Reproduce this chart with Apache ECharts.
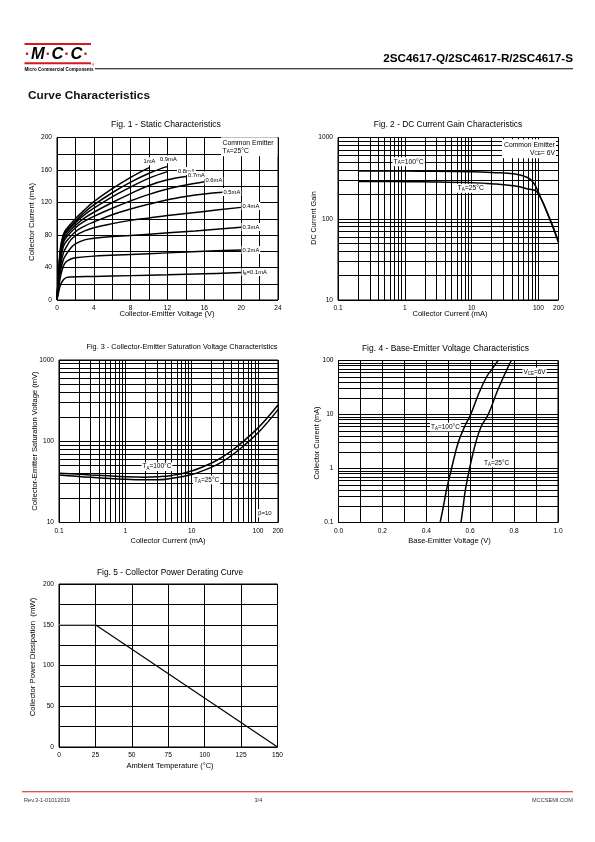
<!DOCTYPE html>
<html><head><meta charset="utf-8">
<script src="https://cdn.jsdelivr.net/npm/echarts@6/dist/echarts.min.js"></script>
<style>html,body{margin:0;padding:0;background:#fff}#c{width:595px;height:842px}</style>
</head><body><div id="c"></div>
<script>
const FONT = 'Liberation Sans';

// ---------- Fig 1: Static characteristics  [VCE (V), IC (mA)] ----------
const ib1_0 = [[0,0],[0.2,40],[0.4,66],[0.7,81],[1,87],[2,100],[3,111],[4,121],[6,137],[8,151],[10,163]];
const ib0_9 = [[0,0],[0.2,38],[0.4,64],[0.7,79],[1,85],[2,97],[3,108],[4,117],[6,132],[8,145],[10,156],[12,164.5]];
const ib0_8 = [[0,0],[0.2,36],[0.4,61],[0.7,77],[1,83],[2,95],[3,105],[4,113],[6,127],[8,139],[10,150],[12,158]];
const ib0_7 = [[0,0],[0.2,34],[0.4,58],[0.7,74],[1,80],[2,92],[3,101],[4,108],[6,120],[8,131],[10,141],[12,148],[14,152]];
const ib0_6 = [[0,0],[0.2,32],[0.4,55],[0.7,71],[1,77],[2,89],[3,97],[4,103],[6,113],[8,122],[10,130],[12,136.5],[14,141.5],[16,145.5]];
const ib0_5 = [[0,0],[0.2,30],[0.4,50],[0.7,66],[1,72],[2,84],[3,91],[4,96],[6,105],[8,112],[10,118],[12,123.5],[14,127.5],[16,130.5],[18,132.5]];
const ib0_4 = [[0,0],[0.2,26],[0.4,44],[0.7,58],[1,65],[1.5,74],[2,79],[3,85],[4,89],[6,94],[8,98],[10,101],[12,104],[16,109],[20,114]];
const ib0_3 = [[0,0],[0.2,22],[0.4,37],[0.7,50],[1,56],[1.5,64],[2,69],[3,74],[4,76],[6,78],[10,81],[15,85],[20,89.5]];
const ib0_2 = [[0,0],[0.2,17],[0.4,30],[0.7,42],[1,47],[1.5,50.5],[2,52],[4,54],[8,56],[12,58],[16,60],[20,61.5]];
const ib0_1 = [[0,0],[0.2,11],[0.4,19],[0.7,25],[1,27.5],[1.5,28.3],[4,29],[8,30],[12,31],[16,32.3],[20,33.7]];
const fig1Curves = [ib1_0, ib0_9, ib0_8, ib0_7, ib0_6, ib0_5, ib0_4, ib0_3, ib0_2, ib0_1];

// ---------- Fig 2: DC current gain  [IC (mA), hFE] ----------
const hfe100 = [[0.2,387],[0.5,387],[1,386],[3,384],[10,378],[20,370],[45,356],[70,320],[85,275],[100,212],[150,96],[200,51]];
const hfe25  = [[0.2,287],[0.5,287],[1,286],[3,284],[10,278],[20,270],[45,253],[70,232],[95,214],[150,98],[200,52]];

// ---------- Fig 3: VCE(sat)  [IC (mA), VCE(sat) (mV)] ----------
const vsat100 = [[0.1,40.5],[0.3,38.5],[1,36.5],[2,36],[3,36.5],[5,38],[10,43],[20,54],[30,65],[50,88],[100,146],[200,280]];
const vsat25  = [[0.1,38.5],[0.3,36],[1,34],[2,33.5],[3,33.5],[5,35],[10,39],[20,48],[30,57],[50,77],[100,127],[200,245]];

// ---------- Fig 4: Base-emitter voltage  [VBE (V), IC (mA)] ----------
const vbe100 = [[0.463,0.1],[0.478,0.2],[0.492,0.4],[0.515,1],[0.545,3],[0.575,6],[0.602,10],[0.64,25],[0.675,50],[0.70,70],[0.727,100]];
const vbe25  = [[0.558,0.1],[0.568,0.2],[0.578,0.4],[0.597,1],[0.625,3],[0.65,6],[0.682,10],[0.72,25],[0.752,50],[0.787,100]];

// ---------- Fig 5: Power derating  [TA (°C), PC (mW)] ----------
const pdFlat  = [[0,150],[25,150]];
const pdSlope = [[25,150],[150,0]];

// ---------- minor grid values for log axes ----------
const minorCur  = [0.2,0.3,0.4,0.5,0.6,0.7,0.8,0.9,2,3,4,5,6,7,8,9,20,30,40,50,60,70,80,90];
const minorGain = [20,30,40,50,60,70,80,90,200,300,400,500,600,700,800,900];
const minorIc4  = [0.2,0.3,0.4,0.5,0.6,0.7,0.8,0.9,2,3,4,5,6,7,8,9,20,30,40,50,60,70,80,90];

const fmtLog = v => String(+(+v).toPrecision(6));
const TICK = {color:'#000', fontSize:6.6, fontFamily:FONT, margin:5};

function axisBase(extra){
  return Object.assign({
    axisLine:{show:false}, axisTick:{show:false},
    axisLabel:Object.assign({}, TICK),
    splitLine:{show:true, lineStyle:{color:'#000', width:1}}
  }, extra);
}
function vLines(xi, xs, y0, y1){
  return {type:'lines', coordinateSystem:'cartesian2d', xAxisIndex:xi, yAxisIndex:xi, silent:true, z:1,
    lineStyle:{color:'#000', width:1, opacity:1}, data: xs.map(x=>({coords:[[x,y0],[x,y1]]}))};
}
function hLines(xi, ys, x0, x1){
  return {type:'lines', coordinateSystem:'cartesian2d', xAxisIndex:xi, yAxisIndex:xi, silent:true, z:1,
    lineStyle:{color:'#000', width:1, opacity:1}, data: ys.map(y=>({coords:[[x0,y],[x1,y]]}))};
}
function curve(xi, data, opts){
  return Object.assign({type:'line', xAxisIndex:xi, yAxisIndex:xi, data:data, showSymbol:false, symbol:'none',
    smooth:0.4, silent:true, z:3, lineStyle:{color:'#000', width:1.5}}, opts||{});
}

function rich(sz){
  return {
    n:{fontSize:sz, fontFamily:FONT, color:'#000', lineHeight:sz+1.2},
    s:{fontSize:sz*0.68, fontFamily:FONT, color:'#000', verticalAlign:'bottom'}
  };
}
function T(x, y, text, o){
  o = o || {};
  return {type:'text', x:x, y:y, rotation:o.rot||0, z:100, silent:true,
    style:{x:0, y:0, text:text, fill:o.color||'#000',
      font:(o.weight||'normal')+' '+(o.size||6.5)+'px "'+FONT+'"',
      fontSize:o.size||6.5, fontFamily:FONT, fontWeight:o.weight||'normal', fontStyle:o.style||'normal',
      textAlign:o.align||'left', align:o.align||'left',
      textVerticalAlign:'middle', verticalAlign:'middle',
      backgroundColor:o.bg, padding:o.pad, rich:o.rich, lineHeight:o.lh}};
}
function L(x, y, text, sz, align){ // small annotation with white box
  return T(x, y, text, {rich:rich(sz||5.8), bg:'#fff', pad:[0.5,1,0.5,1], align:align||'left', size:sz||5.8});
}

const grids = [
  {left:57,  top:137.5, width:221,   height:162.5},
  {left:338, top:137.5, width:220.5, height:162.5},
  {left:59,  top:360,   width:219,   height:162.5},
  {left:338.5, top:360.5, width:219.5, height:162},
  {left:59,  top:584,   width:218.5, height:163}
].map(g=>Object.assign({show:true, borderColor:'#000', borderWidth:1, backgroundColor:'transparent', containLabel:false}, g));

const option = {
  animation:false,
  textStyle:{fontFamily:FONT},
  grid: grids,
  xAxis:[
    axisBase({type:'value', gridIndex:0, min:0, max:24, interval:2,
      axisLabel:Object.assign({}, TICK, {formatter:v=>v%4===0?String(v):''})}),
    axisBase({type:'log', gridIndex:1, min:0.1, max:200, logBase:10,
      axisLabel:Object.assign({}, TICK, {formatter:fmtLog})}),
    axisBase({type:'log', gridIndex:2, min:0.1, max:200, logBase:10,
      axisLabel:Object.assign({}, TICK, {formatter:fmtLog})}),
    axisBase({type:'value', gridIndex:3, min:0, max:1, interval:0.1,
      axisLabel:Object.assign({}, TICK, {formatter:v=>Math.round(v*10)%2===0?(+v).toFixed(1):''})}),
    axisBase({type:'value', gridIndex:4, min:0, max:150, interval:25})
  ],
  yAxis:[
    axisBase({type:'value', gridIndex:0, min:0, max:200, interval:20,
      axisLabel:Object.assign({}, TICK, {formatter:v=>v%40===0?String(v):''})}),
    axisBase({type:'log', gridIndex:1, min:10, max:1000, logBase:10,
      axisLabel:Object.assign({}, TICK, {formatter:fmtLog})}),
    axisBase({type:'log', gridIndex:2, min:10, max:1000, logBase:10,
      axisLabel:Object.assign({}, TICK, {formatter:fmtLog})}),
    axisBase({type:'log', gridIndex:3, min:0.1, max:100, logBase:10,
      axisLabel:Object.assign({}, TICK, {formatter:fmtLog})}),
    axisBase({type:'value', gridIndex:4, min:0, max:200, interval:25,
      axisLabel:Object.assign({}, TICK, {formatter:v=>v%50===0?String(v):''})})
  ],
  series:[
    ...fig1Curves.map(d=>curve(0, d)),
    vLines(1, minorCur, 10, 1000), hLines(1, minorGain, 0.1, 200),
    curve(1, hfe100), curve(1, hfe25),
    vLines(2, minorCur, 10, 1000), hLines(2, minorGain, 0.1, 200),
    curve(2, vsat100), curve(2, vsat25),
    hLines(3, minorIc4, 0, 1),
    curve(3, vbe100), curve(3, vbe25),
    curve(4, pdFlat, {smooth:false, lineStyle:{color:'#9a9a9a', width:1.2}}),
    curve(4, pdSlope, {smooth:false, lineStyle:{color:'#000', width:1.2}})
  ],
  graphic:[
    // header
    {type:'rect', shape:{x:24.5, y:43, width:66.5, height:2}, style:{fill:'#d7191f'}, silent:true},
    {type:'rect', shape:{x:24.5, y:62.3, width:66.5, height:2}, style:{fill:'#d7191f'}, silent:true},
    {type:'text', x:24, y:54.5, silent:true, style:{text:'{d|·}{m|M}{d|·}{m|C}{d|·}{m|C}{d|·}', verticalAlign:'middle', textVerticalAlign:'middle',
      rich:{d:{fontSize:16, fontWeight:'bold', fontFamily:FONT, fill:'#d7191f', color:'#d7191f', padding:[0,0.8,0,0.8]},
            m:{fontSize:16.5, fontWeight:'bold', fontStyle:'italic', fontFamily:FONT, fill:'#000', color:'#000'}}}},
    T(24.5, 70.2, 'Micro Commercial Components', {size:4.6, weight:'bold'}),
    T(91.5, 65.2, '®', {size:3.5}),
    {type:'rect', shape:{x:95, y:68.2, width:478, height:1.1}, style:{fill:'#000'}, silent:true},
    T(573, 58.5, '2SC4617-Q/2SC4617-R/2SC4617-S', {size:11.7, weight:'bold', align:'right'}),
    T(28, 96, 'Curve Characteristics', {size:11.8, weight:'bold', color:'#111'}),
    // figure titles
    T(166, 125, 'Fig. 1 - Static Characteristics', {size:8.6, align:'center'}),
    T(448, 125, 'Fig. 2 - DC Current Gain Characteristics', {size:8.4, align:'center'}),
    T(182, 347, 'Fig. 3 - Collector-Emitter Saturation Voltage Characteristics', {size:7.3, align:'center'}),
    T(445.5, 348.5, 'Fig. 4 - Base-Emitter Voltage Characteristics', {size:8.5, align:'center'}),
    T(170, 573, 'Fig. 5 - Collector Power Derating Curve', {size:8.4, align:'center'}),
    // axis titles
    T(167, 314.3, 'Collector-Emitter Voltage (V)', {size:7.5, align:'center'}),
    T(31.5, 222, 'Collector Current (mA)', {size:7.8, align:'center', rot:Math.PI/2}),
    T(450, 314.3, 'Collector Current (mA)', {size:7.5, align:'center'}),
    T(314, 218, 'DC Current Gain', {size:7.2, align:'center', rot:Math.PI/2}),
    T(168, 541, 'Collector Current (mA)', {size:7.5, align:'center'}),
    T(35, 441, 'Collector-Emitter Saturation Voltage (mV)', {size:7.6, align:'center', rot:Math.PI/2}),
    T(449.5, 541, 'Base-Emitter Voltage (V)', {size:7.5, align:'center'}),
    T(316.5, 443, 'Collector Current (mA)', {size:7.3, align:'center', rot:Math.PI/2}),
    T(170, 766, 'Ambient Temperature (°C)', {size:7.5, align:'center'}),
    T(33.3, 657, 'Collector Power Dissipation  (mW)', {size:7.8, align:'center', rot:Math.PI/2}),
    // fig 1 annotations
    L(142.5, 161.3, '{n|1mA}'),
    L(159, 159.3, '{n|0.9mA}'),
    L(177, 171, '{n|0.8mA}'),
    L(187, 175.3, '{n|0.7mA}'),
    L(204.5, 180.7, '{n|0.6mA}'),
    L(222.5, 192, '{n|0.5mA}'),
    L(241.5, 206, '{n|0.4mA}'),
    L(241.5, 227, '{n|0.3mA}'),
    L(241.5, 250, '{n|0.2mA}'),
    L(241.5, 272, '{n|I}{s|B}{n|=0.1mA}'),
    T(221, 146.7, '{n|Common Emitter}\n{n|T}{s|A}{n|=25°C}', {rich:rich(6.8), bg:'#fff', pad:[1.5,4,1.5,1.5], size:6.8}),
    // fig 2 annotations
    L(392.5, 161.7, '{n|T}{s|A}{n|=100°C}', 6.8),
    L(456.5, 188.3, '{n|T}{s|A}{n|=25°C}', 6.8),
    T(556, 148.7, '{n|Common Emitter}\n{n|V}{s|CE}{n|= 6V}', {rich:rich(6.8), bg:'#fff', pad:[1.5,1,1.5,2], align:'right', size:6.8}),
    // fig 3 annotations
    L(141.5, 466.7, '{n|T}{s|A}{n|=100°C}', 6.5),
    L(193, 480, '{n|T}{s|A}{n|=25°C}', 6.5),
    L(257, 513.3, '{n|β=10}', 6),
    // fig 4 annotations
    L(522.5, 372, '{n|V}{s|CE}{n|=6V}', 6.5),
    L(430, 427, '{n|T}{s|A}{n|=100°C}', 6.5),
    L(483, 463, '{n|T}{s|A}{n|=25°C}', 6.5),
    // footer
    {type:'rect', shape:{x:22, y:791.3, width:551, height:1}, style:{fill:'#d7191f'}, silent:true},
    T(24, 800, 'Rev.3-1-01012019', {size:5.6, color:'#333'}),
    T(254.5, 800, '3/4', {size:5.6, color:'#333'}),
    T(573, 800, 'MCCSEMI.COM', {size:5.6, color:'#333', align:'right'})
  ]
};

const chart = echarts.init(document.getElementById('c'), null, {renderer:'canvas', width:595, height:842});
chart.setOption(option);
</script>
</body></html>
